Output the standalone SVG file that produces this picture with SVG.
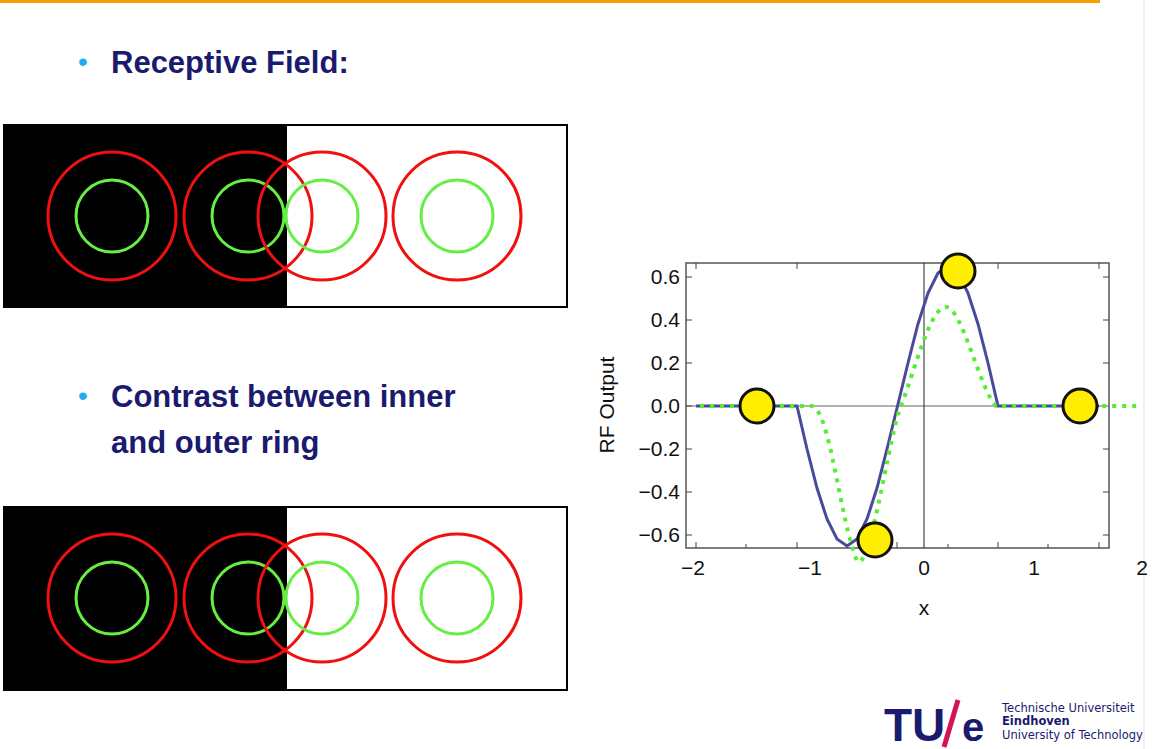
<svg xmlns="http://www.w3.org/2000/svg" width="1158" height="749" viewBox="0 0 1158 749">
<style>
.red{fill:none;stroke:#f01010;stroke-width:3}
.grn{fill:none;stroke:#66ee44;stroke-width:3}
.head{font-family:"Liberation Sans",Arial,sans-serif;font-weight:bold;font-size:31px;fill:#1a1a6e}
.bul{font-family:"Liberation Sans",Arial,sans-serif;font-size:28px;fill:#22aaee}
.tk{font-family:"Liberation Sans",Arial,sans-serif;font-size:21px;fill:#111}
.dot{fill:#ffee00;stroke:#111;stroke-width:3}
</style>
<rect width="1158" height="749" fill="#fff"/>
<rect x="0" y="0" width="1100" height="3" fill="#f5a000"/>
<line x1="1144" y1="0" x2="1144" y2="749" stroke="#ddd" stroke-width="1"/>
<g id="title1"><text class="bul" x="78" y="71">•</text><text class="head" x="111" y="73">Receptive Field:</text></g>
<g id="title2"><text class="bul" x="78" y="405">•</text><text class="head" x="111" y="407">Contrast between inner</text><text class="head" x="111" y="453">and outer ring</text></g>
<g id="panel1">
<rect x="4" y="125" width="563" height="182" fill="#fff" stroke="#000" stroke-width="2"/>
<rect x="4" y="125" width="283" height="182" fill="#000"/>
<circle class="red" cx="112" cy="216" r="64"/><circle class="grn" cx="112" cy="216" r="36"/>
<circle class="red" cx="248" cy="216" r="64"/><circle class="grn" cx="248" cy="216" r="36"/>
<circle class="red" cx="322" cy="216" r="64"/><circle class="grn" cx="322" cy="216" r="36"/>
<circle class="red" cx="457" cy="216" r="64"/><circle class="grn" cx="457" cy="216" r="36"/>
</g>
<g id="panel2">
<rect x="4" y="507" width="563" height="183" fill="#fff" stroke="#000" stroke-width="2"/>
<rect x="4" y="507" width="283" height="183" fill="#000"/>
<circle class="red" cx="112" cy="598" r="64"/><circle class="grn" cx="112" cy="598" r="36"/>
<circle class="red" cx="248" cy="598" r="64"/><circle class="grn" cx="248" cy="598" r="36"/>
<circle class="red" cx="322" cy="598" r="64"/><circle class="grn" cx="322" cy="598" r="36"/>
<circle class="red" cx="457" cy="598" r="64"/><circle class="grn" cx="457" cy="598" r="36"/>
</g>
<g id="plot">
<rect x="686" y="263" width="423" height="285" fill="#fff" stroke="#555" stroke-width="1.5"/>
<line x1="686" y1="406" x2="1109" y2="406" stroke="#666" stroke-width="1.2"/>
<line x1="924" y1="263" x2="924" y2="548" stroke="#222" stroke-width="1"/>
<g stroke="#444" stroke-width="1">
<path d="M696 548v-6M746 548v-4M797 548v-6M847 548v-4M897 548v-6M948 548v-4M998 548v-6M1048 548v-4M1099 548v-6M696 263v6M797 263v6M998 263v6M1099 263v6"/>
<path d="M686 277h6M686 320h6M686 363h6M686 406h6M686 449h6M686 492h6M686 535h6M1109 277h-6M1109 320h-6M1109 363h-6M1109 449h-6M1109 492h-6M1109 535h-6"/>
</g>
<g class="tk" text-anchor="end">
<text x="680" y="284">0.6</text><text x="680" y="327">0.4</text><text x="680" y="370">0.2</text><text x="680" y="413">0.0</text>
<text x="680" y="456">−0.2</text><text x="680" y="499">−0.4</text><text x="680" y="542">−0.6</text>
</g>
<g class="tk" text-anchor="middle">
<text x="693" y="575">−2</text><text x="810" y="575">−1</text><text x="924" y="575">0</text><text x="1034" y="575">1</text><text x="1142" y="575">2</text>
<text x="924" y="615">x</text>
</g>
<text class="tk" font-size="24" text-anchor="middle" transform="translate(614,405) rotate(-90)">RF Output</text>
<polyline fill="none" stroke="#4a4a9a" stroke-width="3" points="696,406 797,406 807,449 817,488 827,519 837,539 847,546 857,539 867,519 877,488 887,449 897.5,406 908,363 918,324 928,293 938,273 948,266 958,273 968,293 978,324 988,363 998,406 1099,406"/>
<path fill="none" stroke="#55ee33" stroke-width="4" stroke-dasharray="4,6" d="M700 406H812C830 410 840 520 857 561C870 575 890 430 901 406C915 370 930 307 946 307C962 307 980 390 996 406H1142"/>
<circle class="dot" cx="757" cy="406" r="17"/>
<circle class="dot" cx="875" cy="540" r="17"/>
<circle class="dot" cx="958" cy="271" r="17"/>
<circle class="dot" cx="1080" cy="406" r="17"/>
</g>
<g id="logo">
<text x="884" y="741" font-family="Liberation Sans,Arial,sans-serif" font-weight="bold" font-size="46" fill="#1a1a6e">TU</text>
<line x1="958" y1="700" x2="944" y2="747" stroke="#d4145a" stroke-width="5"/>
<text x="962" y="741" font-family="Liberation Sans,Arial,sans-serif" font-weight="bold" font-size="40" fill="#1a1a6e">e</text>
<g font-family="DejaVu Sans,sans-serif" font-size="11.5" fill="#1a1a6e">
<text x="1002" y="712">Technische Universiteit</text>
<text x="1002" y="725" font-weight="bold">Eindhoven</text>
<text x="1002" y="739">University of Technology</text>
</g>
</g>
</svg>
